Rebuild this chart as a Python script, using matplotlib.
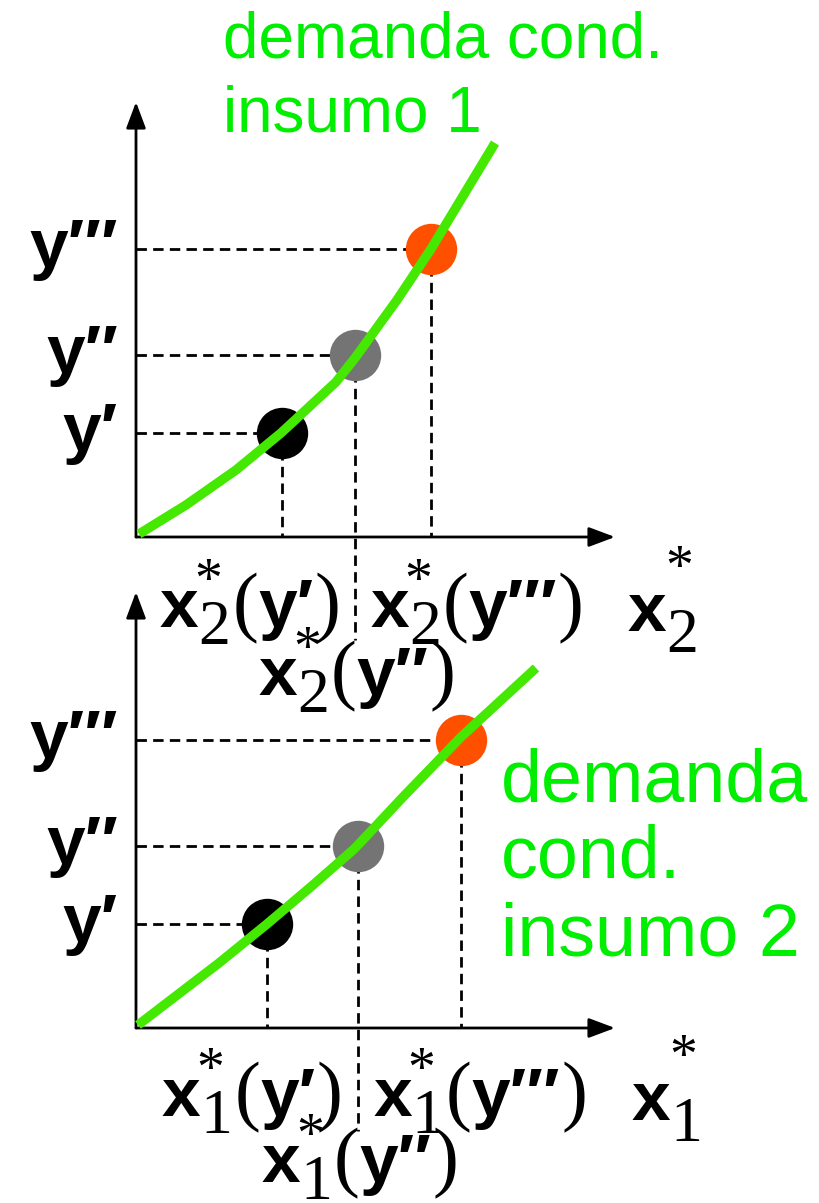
import matplotlib
matplotlib.use("Agg")
import matplotlib.pyplot as plt

plt.rcParams['lines.scale_dashes'] = False

# valores (1 unidade = 100 px a partir da origem de cada painel)
y_niveis = [1.04, 1.82, 2.88]                 # y', y'', y'''
primos = ["\u2032", "\u2032\u2032", "\u2032\u2032\u2032"]

# painel de cima: demanda condicionada do insumo 2
x2_pontos = [1.46, 2.19, 2.95]
curva2_x = [0.03, 0.50, 1.00, 1.45, 2.00, 2.19, 2.61, 2.95, 3.59]
curva2_y = [0.03, 0.32, 0.67, 1.04, 1.55, 1.79, 2.37, 2.88, 3.94]

# painel de baixo: demanda condicionada do insumo 1
x1_pontos = [1.31, 2.22, 3.25]
curva1_x = [0.02, 0.83, 1.31, 1.77, 2.17, 2.22, 2.67, 3.25, 4.00]
curva1_y = [0.03, 0.65, 1.04, 1.43, 1.78, 1.83, 2.31, 2.91, 3.60]

cores_pontos = ["#000000", "#747474", "#FF5000"]
VERDE_LINHA = "#44E800"
VERDE_TEXTO = "#00EE00"

W, H = 819, 1203
fig = plt.figure(figsize=(W / 100, H / 100), dpi=100)

# eixo de fundo em pixels, só para os textos
ax0 = fig.add_axes([0, 0, 1, 1])
ax0.set_xlim(0, W)
ax0.set_ylim(H, 0)
ax0.axis("off")


def painel(ox, oy):
    # origem do painel em pixels (ox, oy), 5 x 4.5 unidades
    return fig.add_axes([ox / W, (H - oy) / H, 500 / W, 450 / H])


SB = dict(family=["Liberation Sans", "DejaVu Sans"], weight="bold", size=50)
SERIF_SUB = dict(family="Liberation Serif", size=46)
SERIF_PAR = dict(family="Liberation Serif", size=56)
STAR = dict(family="Liberation Serif", size=40)

renderer = fig.canvas.get_renderer()


def rich_label(x, y, pieces, ha="center"):
    # pieces: (texto, fonte, dx, dy, avanca)
    cursor = 0
    arts = []
    for s, fp, dx, dy, adv in pieces:
        t = ax0.text(x + cursor + dx, y - dy, s, va="baseline", ha="left", **fp)
        arts.append(t)
        if adv:
            cursor += dx + t.get_window_extent(renderer).width
    if ha == "center":
        for t in arts:
            px, py = t.get_position()
            t.set_x(px - cursor / 2)


def rotulo_x(x, y, k, p):
    rich_label(x, y, [("x", SB, 0, 0, True),
                      ("*", STAR, -4, 30, False),
                      (k, SERIF_SUB, 0, -17, True),
                      ("(", SERIF_PAR, 2, 0, True),
                      ("y" + p, SB, 0, 0, True),
                      (")", SERIF_PAR, 1, 0, True)])


def rotulo_eixo(x, y, k):
    rich_label(x, y, [("x", SB, 0, 0, True),
                      ("*", STAR, -1, 47, False),
                      (k, SERIF_SUB, 0, -21, True)], ha="left")


def desenha(ax, xs, cx, cy, ymax, xmax):
    ax.set_xlim(0, 5)
    ax.set_ylim(0, 4.5)
    ax.axis("off")
    seta = dict(arrowstyle="-|>,head_length=0.4,head_width=0.15", lw=2,
                color="black", mutation_scale=40, shrinkA=0, shrinkB=0)
    ax.annotate("", xy=(0, ymax), xytext=(0, 0), arrowprops=seta, annotation_clip=False)
    ax.annotate("", xy=(xmax, 0), xytext=(0, 0), arrowprops=seta, annotation_clip=False)
    for i, (xp, yp) in enumerate(zip(xs, y_niveis)):
        ybaixo = -1.03 if i == 1 else 0
        ax.plot([0, xp], [yp, yp], color="black", lw=2, dashes=(7.5, 4.5),
                clip_on=False, zorder=1)
        ax.plot([xp, xp], [yp, ybaixo], color="black", lw=2, dashes=(7.5, 4.5),
                clip_on=False, zorder=1)
        ax.plot(xp, yp, "o", ms=37, color=cores_pontos[i], mec="none", zorder=3,
                clip_on=False)
    ax.plot(cx, cy, color=VERDE_LINHA, lw=6.8, solid_capstyle="butt",
            solid_joinstyle="round", zorder=4, clip_on=False)


ax_top = painel(136, 537)
desenha(ax_top, x2_pontos, curva2_x, curva2_y, 4.35, 4.79)
ax_bot = painel(136, 1028)
desenha(ax_bot, x1_pontos, curva1_x, curva1_y, 4.36, 4.79)

# rótulos do eixo y
for base in (537, 1028):
    for yv, p in zip(y_niveis, primos):
        ax0.text(118, base - yv * 100 + 18, "y" + p, ha="right", va="baseline", **SB)

# rótulos do eixo x
rotulo_x(250, 627, "2", primos[0])
rotulo_x(477, 627, "2", primos[2])
rotulo_x(357, 695, "2", primos[1])
rotulo_eixo(628, 631, "2")

rotulo_x(252, 1116, "1", primos[0])
rotulo_x(480, 1116, "1", primos[2])
rotulo_x(360, 1182, "1", primos[1])
rotulo_eixo(632, 1120, "1")

# textos verdes
VERDE = dict(family="Liberation Sans", color=VERDE_TEXTO, va="baseline", ha="left")
ax0.text(223, 57, "demanda cond.", size=46, **VERDE)
ax0.text(223, 132, "insumo 1", size=46, **VERDE)
ax0.text(501, 802, "demanda", size=53, **VERDE)
ax0.text(501, 878, "cond.", size=53, **VERDE)
ax0.text(501, 955, "insumo 2", size=53, **VERDE)

fig.savefig("out.png", dpi=100)
